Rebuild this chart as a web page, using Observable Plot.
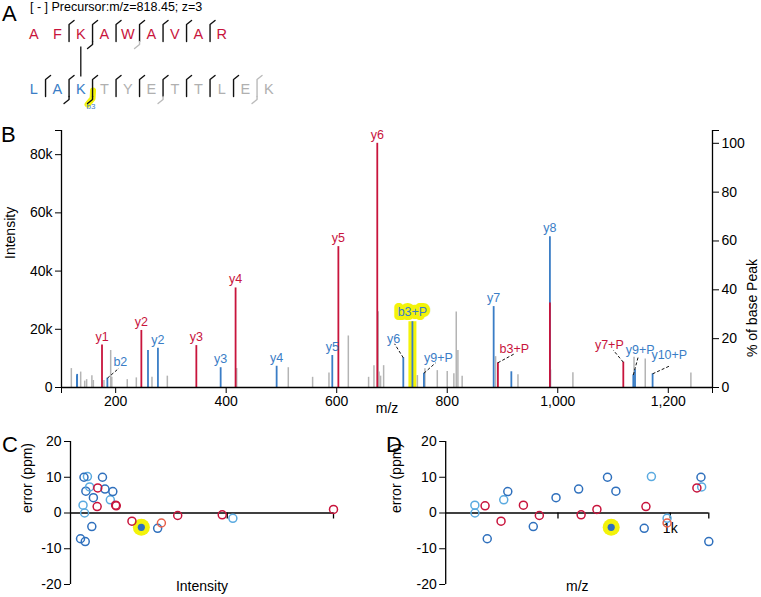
<!DOCTYPE html>
<html><head><meta charset="utf-8">
<script src="https://cdn.jsdelivr.net/npm/d3@7"></script>
<script src="https://cdn.jsdelivr.net/npm/@observablehq/plot@0.6"></script>
<style>
body{margin:0;background:#fff;font-family:"Liberation Sans",Arial,Helvetica,sans-serif;}
#wrap{position:relative;width:761px;height:597px;overflow:hidden;background:#fff;}
.abs{position:absolute;}
.letter{font-size:22px;line-height:22px;color:#000;}
.prec{font-size:12.5px;line-height:14px;color:#000;white-space:pre;}
</style></head><body>
<div id="wrap"></div>
<script>
// ---------------- DATA ----------------
const precursorText = "[ - ] Precursor:m/z=818.45; z=3";
const panelLetters = ["A", "B", "C", "D"];

// Panel A: cross-linked peptides
const peptide1 = ["A","F","K","A","W","A","V","A","R"];
const peptide1Status = ["red","red","red","red","red","red","red","red","red"];
const peptide2 = ["L","A","K","T","Y","E","T","T","L","E","K"];
const peptide2Status = ["blue","blue","blue","grey","grey","grey","grey","grey","grey","grey","grey"];
// cleavage markers: row, after residue index, top-part status, bottom-part status
const cleavRow    = [0,0,0,0,0,0,0, 1,1,1,1,1,1,1,1,1,1];
const cleavAfter  = [1,2,3,4,5,6,7, 0,1,2,3,4,5,6,7,8,9];
const cleavTop    = ["k","k","k","k","k","k","k", "k","k","k","k","k","k","k","k","k","g"];
const cleavBottom = ["","k","","g","","","", "","k","k","","","g","","","","g"];
const crosslinkSites = [2, 2];
const highlightCleavage = {row: 1, after: 2, label: "b3"};

// Panel B: unmatched (grey) peaks
const greyMz  = [119.8,136.7,144,147.5,157,159.6,178.8,191,193,221,237.4,265.7,293.5,419,512.4,556.4,586,621,657.7,667.4,675,676.5,679.4,684.9,746,759.6,782,800,812,816.3,819.3,827,887.5,928,987,1027.4,1138,1158.3,1240.9];
const greyInt = [6500,5300,2200,2700,4000,2400,2400,12700,3500,2700,3300,3500,3900,6500,6800,3500,5000,17700,3500,7500,26000,5300,3900,7500,4100,6400,5800,5500,4700,25900,12700,3900,10600,4400,6000,5100,10400,9800,5000];

// matched ions (peaks + error points)
const ionMz    = [129.9,130.3,185.0,258.5,276.5,390.0,491.3,592.0,720.5,737.0,757.8,884.0,916.0,985.8,1136.7,1139.8,1171.6, 175.3,246.5,346.0,417.0,603.0,673.4,891.7,985.8,1118.6];
const ionInt   = [4000,4500,3200,12700,13500,6800,7300,11000,10200,22600,4900,27800,5400,51800,4300,6100,4700, 14600,19600,14400,34200,48400,83900,8500,29000,8700];
const ionErr   = [2.2,0,-7.2,3.7,6.0,-3.8,4.3,6.7,10.0,-4.0,6.1,-4.3,10.2,-1.5,10.0,7.3,-8.0, 2.0,-2.3,2.2,-0.7,-0.5,1.0,1.8,-2.8,7.0];
const ionKind  = ["light","light","blue","light","blue","blue","blue","blue","blue","hl","blue","blue","light","light","blue","light","blue", "red","red","red","red","red","red","red","orange","red"];
const ionLabel = ["","","b2","","y2","y3","y4","y5","y6","b3+P","y9+P","y7","","y8","y9+P","","y10+P", "y1","y2","y3","y4","y5","y6","b3+P","","y7+P"];

// axis ticks
const mzTicks = [200,400,600,800,1000,1200];
const intTicks = [0,20000,40000,60000,80000];
const pctTicks = [0,20,40,60,80,100];
const errTicks = [-20,-10,0,10,20];
const intErrTicks = [50000];
const mzErrTicks = [500,1000];
const mzErrLabel = [{v:1000, t:"1k"}];

// ---------------- STYLE / LAYOUT ----------------
const FONT = '"Liberation Sans", Arial, Helvetica, sans-serif';
const RED = "#c8143c", BLUE = "#3a7dc6", DBLUE = "#2f70bd", LBLUE = "#5aaae0", ORANGE = "#e8604a", GREY = "#b4b4b4", LGREY = "#b0b0b0", YELLOW = "#f3f30a";
const kindColor = {red: RED, orange: ORANGE, blue: DBLUE, light: LBLUE, hl: DBLUE};
const statusColor = {red: RED, blue: BLUE, grey: LGREY, k: "#111", g: "#bbb"};
// label offsets in px: [labelDx, labelDy, leaderDx, leaderDy]
const leaderLayout = {2:[13,-16,11.6,-10], 8:[-9.7,-19,-8.7,-14], 10:[14.5,-15.7,11.7,-10.4], 14:[6.8,-24.5,5,-18.5], 16:[16.7,-18.6,18,-8.3], 23:[16.4,-14,16,-8.7], 25:[-14,-17,-10,-12]};

const wrap = document.getElementById("wrap");
function place(el, left, top){ const d=document.createElement("div"); d.className="abs"; d.style.left=left+"px"; d.style.top=top+"px"; d.appendChild(el); wrap.appendChild(d); return d; }
function htmlText(txt, cls){ const s=document.createElement("div"); s.className=cls; s.textContent=txt; return s; }

const ions = ionMz.map((mz,i)=>({i, mz, int: ionInt[i], err: ionErr[i], kind: ionKind[i], label: ionLabel[i]}));
const greyPeaks = greyMz.map((mz,i)=>({mz, int: greyInt[i]}));
const isRed = k => k==="red" || k==="orange";

// ---------------- PANEL A ----------------
{
  const W = 300, H = 112, mL = 33.3, mR = 31.7, mT = 34, mB = 23;
  const ux = 10/(W-mL-mR), uy = 1/(H-mT-mB);
  const letters = [
    ...peptide1.map((t,i)=>({x:i,y:0,t,c:statusColor[peptide1Status[i]]})),
    ...peptide2.map((t,i)=>({x:i,y:1,t,c:statusColor[peptide2Status[i]]}))
  ];
  const pts = [];
  cleavRow.forEach((row,k)=>{
    const x = cleavAfter[k]+0.5, y=row;
    const c = statusColor[cleavTop[k]];
    pts.push({g:"t"+k,x:x+5*ux,y:y-14*uy,c},{g:"t"+k,x:x,y:y-10*uy,c},{g:"t"+k,x:x,y:y+7*uy,c});
    if (cleavBottom[k]) {
      const c2 = statusColor[cleavBottom[k]];
      pts.push({g:"b"+k,x:x,y:y+7*uy,c:c2},{g:"b"+k,x:x,y:y+10*uy,c:c2},{g:"b"+k,x:x-5*ux,y:y+14*uy,c:c2});
    }
  });
  const hx = highlightCleavage.after+0.5, hy = highlightCleavage.row;
  const hlPts = [{x:hx+0.5*ux,y:hy+1*uy},{x:hx,y:hy+9*uy},{x:hx-5*ux,y:hy+15*uy}];
  const svg = Plot.plot({
    width: W, height: H, marginLeft: mL, marginRight: mR, marginTop: mT, marginBottom: mB,
    x: {domain:[0,10], axis:null}, y: {domain:[0,1], reverse:true, axis:null},
    color: {type:"identity"},
    style: {fontFamily: FONT, background:"transparent", overflow:"visible"},
    marks: [
      Plot.line(hlPts, {x:"x", y:"y", stroke: YELLOW, strokeWidth: 6}),
      Plot.link([crosslinkSites], {x1: d=>d[0], x2: d=>d[1], y1: 12*uy, y2: 1-13*uy, stroke:"#111", strokeWidth:1.3}),
      Plot.line(pts, {x:"x", y:"y", z:"g", stroke: d=>d.c, strokeWidth:1.4, strokeLinejoin:"round"}),
      Plot.text(letters, {x:"x", y:"y", text:"t", fill: d=>d.c, fontSize:14.5}),
      Plot.text([highlightCleavage], {x: d=>d.after+0.5-1.5*ux, y: d=>d.row+17*uy, text:"label", fill: BLUE, fontSize:8})
    ]
  });
  place(svg, 0, 0);
}
place(htmlText(precursorText, "prec"), 30, 0);

// ---------------- PANEL B ----------------
{
  const W = 761, H = 310, mL = 61, mR = 49, mT = 20, mB = 33;
  const xDomain = [102, 1280];
  const yMax = 88300;
  const base = d3.max(ions, d=>d.int);
  const pxX = (W-mL-mR)/(xDomain[1]-xDomain[0]);
  const pxY = (H-mT-mB)/yMax;
  const labels = ions.filter(d=>d.label).map(d=>{
    const L = leaderLayout[d.i] || (d.kind==="hl" ? [0,-10] : [0,-8.5]);
    return {...d, lx: d.mz + L[0]/pxX, ly: d.int - L[1]/pxY,
      ex: L.length>2 ? d.mz + L[2]/pxX : null, ey: L.length>2 ? d.int - L[3]/pxY : null,
      col: isRed(d.kind) ? RED : BLUE};
  });
  const leaders = labels.filter(d=>d.ex!==null);
  const svg = Plot.plot({
    width: W, height: H, marginLeft: mL, marginRight: mR, marginTop: mT, marginBottom: mB,
    x: {domain: xDomain, axis: null}, y: {domain: [0, yMax], axis: null},
    color: {type:"identity"},
    style: {fontFamily: FONT, fontSize: "14px", background:"transparent", color:"#000", overflow:"visible"},
    marks: [
      Plot.ruleX(ions.filter(d=>d.kind==="hl"), {x:"mz", y1:0, y2: d=>d.int, stroke: YELLOW, strokeWidth: 8}),
      Plot.ruleX(greyPeaks, {x:"mz", y1:0, y2:"int", stroke: GREY, strokeWidth:1.5}),
      Plot.ruleX(ions.filter(d=>!isRed(d.kind)), {x:"mz", y1:0, y2:"int", stroke: BLUE, strokeWidth:1.8}),
      Plot.ruleX(ions.filter(d=>isRed(d.kind)), {x:"mz", y1:0, y2:"int", stroke: RED, strokeWidth:1.8}),
      Plot.ruleX(xDomain, {stroke:"#000", strokeWidth:1.3}),
      Plot.ruleY([0], {stroke:"#000", strokeWidth:1.3}),
      Plot.axisX(mzTicks, {anchor:"bottom", tickSize:6, tickPadding:3, tickFormat: d3.format(","), label:null, fontSize:14}),
      Plot.axisX(xDomain, {anchor:"bottom", tickSize:6, tickFormat: ()=>"", label:null}),
      Plot.axisY(intTicks, {anchor:"left", tickSize:6, tickPadding:3, tickFormat: d=> d ? d/1000+"k" : "0", label:null, fontSize:14}),
      Plot.axisY([yMax], {anchor:"left", tickSize:6, tickFormat: ()=>"", label:null}),
      Plot.axisY(pctTicks.map(p=>p/100*base), {anchor:"right", tickSize:6, tickPadding:3, tickFormat: d=>String(Math.round(d/base*100)), label:null, fontSize:14}),
      Plot.axisY([yMax], {anchor:"right", tickSize:6, tickFormat: ()=>"", label:null}),
      Plot.link(leaders, {x1:"mz", y1:"int", x2:"ex", y2:"ey", stroke:"#111", strokeWidth:1, strokeDasharray:"3,2"}),
      Plot.text(labels.filter(d=>d.kind==="hl"), {x:"lx", y:"ly", text:"label", fill: d=>d.col, stroke: YELLOW, strokeWidth: 8, strokeLinejoin:"round", fontSize:12.5}),
      Plot.text(labels.filter(d=>d.kind!=="hl"), {x:"lx", y:"ly", text:"label", fill: d=>d.col, fontSize:12.5}),
      Plot.text(["Intensity"], {frameAnchor:"left", rotate:-90, dx:-51, fontSize:14}),
      Plot.text(["% of base Peak"], {frameAnchor:"right", rotate:-90, dx:40, fontSize:14}),
      Plot.text(["m/z"], {frameAnchor:"bottom", dy:25, fontSize:14})
    ]
  });
  place(svg, 0, 110);
}

// ---------------- PANELS C & D ----------------
function errorPlot(key, xLabel, ticks, tickLabels, left, W, mL, mR, yLabelDx) {
  const H = 177, mT = 21, mB = 13;
  const xMax = d3.max(ions, d=>d[key]);
  const tickLen = 6 * 40 / (H-mT-mB);
  const hl = ions.filter(d=>d.kind==="hl");
  const svg = Plot.plot({
    width: W, height: H, marginLeft: mL, marginRight: mR, marginTop: mT, marginBottom: mB,
    x: {domain: [0, xMax], axis: null}, y: {domain: [-20, 20], axis: null},
    color: {type:"identity"},
    style: {fontFamily: FONT, fontSize: "14px", background:"transparent", color:"#000", overflow:"visible"},
    marks: [
      Plot.ruleX([0], {stroke:"#000", strokeWidth:1.3}),
      Plot.ruleY([0], {stroke:"#000", strokeWidth:1.3}),
      Plot.ruleX([...ticks, xMax], {x: d=>d, y1: 0, y2: -tickLen, stroke:"#000", strokeWidth:1.3}),
      Plot.text(tickLabels, {x:"v", y: 0, text:"t", dy: 15.5, fontSize:14}),
      Plot.axisY(errTicks, {anchor:"left", tickSize:6, tickPadding:3, tickFormat: d=>String(d), label:null, fontSize:14}),
      Plot.text(["error (ppm)"], {frameAnchor:"left", rotate:-90, dx: yLabelDx, fontSize:14}),
      Plot.text([xLabel], {frameAnchor:"bottom", dy:6, fontSize:14}),
      Plot.dot(hl, {x:key, y:"err", r:8.5, fill: YELLOW}),
      Plot.dot(ions.filter(d=>d.kind!=="hl"), {x:key, y:"err", r:4, stroke: d=>kindColor[d.kind], strokeWidth:1.5, fill:"none"}),
      Plot.dot(hl, {x:key, y:"err", r:3.6, fill: DBLUE})
    ]
  });
  place(svg, left, 420);
}
errorPlot("int", "Intensity", intErrTicks, [], 0, 380, 70, 47, -43);
errorPlot("mz", "m/z", mzErrTicks, mzErrLabel, 380, 381, 65.2, 52.7, -49);

// panel letters
const letterPos = [[2,3.4],[1,124.4],[2,434.4],[386,434.4]];
panelLetters.forEach((t,i)=>place(htmlText(t,"letter"), letterPos[i][0], letterPos[i][1]));
</script>
</body></html>
